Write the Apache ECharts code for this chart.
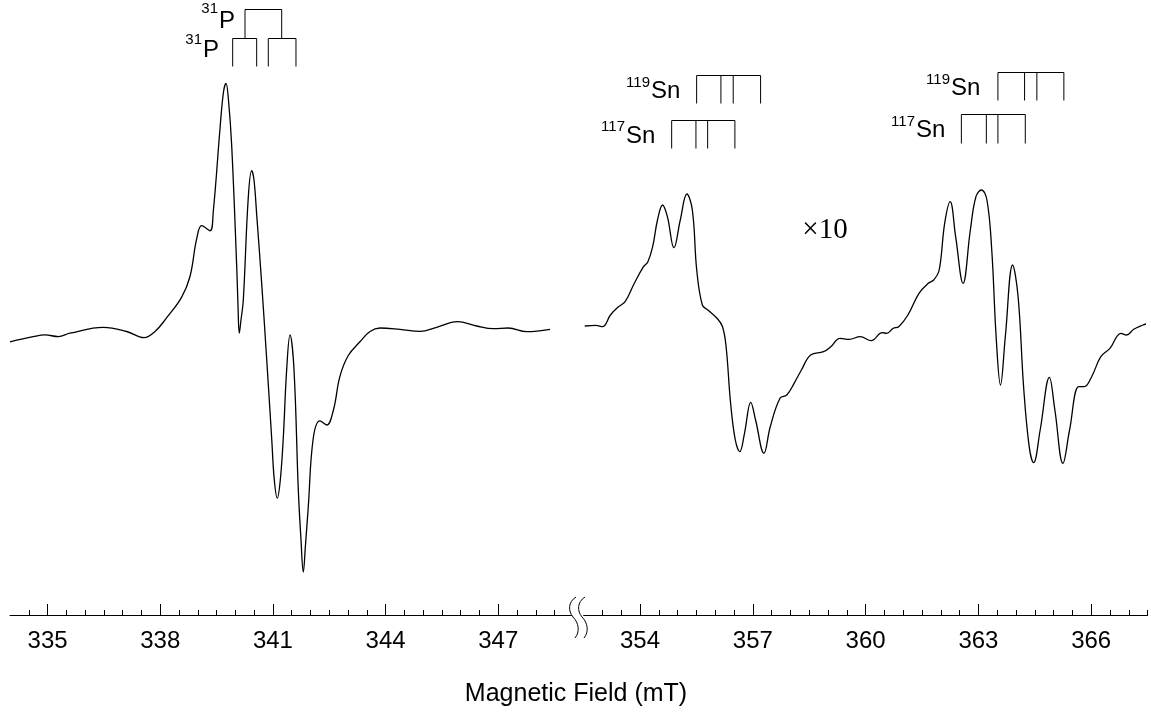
<!DOCTYPE html>
<html><head><meta charset="utf-8">
<script src="https://cdn.jsdelivr.net/npm/echarts@6/dist/echarts.min.js"></script>
<style>html,body{margin:0;padding:0;background:#fff}#c{width:1151px;height:715px}</style>
</head><body><div id="c"></div>
<script>
// ---- data (magnetic field in mT, signal in arbitrary units) ----
const leftField = [334.000, 334.620, 334.932, 335.286, 335.597, 336.484, 337.107, 337.568, 337.861, 338.172, 338.571, 338.792, 338.971, 339.104, 339.325, 339.413, 339.591, 339.684, 339.751, 339.817, 339.903, 340.036, 340.070, 340.105, 340.150, 340.211, 340.344, 340.435, 340.496, 340.568, 340.701, 340.834, 340.967, 341.037, 341.117, 341.197, 341.276, 341.367, 341.455, 341.561, 341.676, 341.748, 341.809, 341.867, 341.942, 342.075, 342.253, 342.432, 342.608, 342.786, 343.007, 343.318, 343.585, 343.851, 344.383, 344.916, 345.360, 345.909, 346.425, 346.867, 347.267, 347.757, 348.377];
const leftSignal = [-11.8, -6.6, -4.9, -6.6, -3.2, 2.6, -1.5, -7.7, -1.5, 12.3, 32.9, 53.5, 91.3, 104.4, 99.2, 118.8, 201.3, 238, 246.6, 230, 184.1, 63.8, 25, -3.2, 10, 29.5, 132.5, 159.3, 150, 115.4, 46.6, -29, -108, -150, -168.1, -150, -108, -39.3, -4.9, -39.3, -159.6, -210, -242, -215, -176.7, -108, -90.8, -95, -80.5, -46.2, -25.5, -11.8, -1.5, 2, 0.7, -1.3, 2.7, 8.3, 4, 1.3, 2, -1.7, 0.7];
const rightField = [352.531, 352.823, 353.001, 353.214, 353.410, 353.604, 353.849, 354.093, 354.210, 354.337, 354.465, 354.600, 354.728, 354.903, 355.071, 355.246, 355.392, 355.509, 355.658, 355.804, 356.048, 356.194, 356.290, 356.410, 356.535, 356.654, 356.779, 356.946, 357.074, 357.297, 357.464, 357.727, 357.903, 358.099, 358.293, 358.538, 358.880, 359.074, 359.319, 359.563, 359.856, 360.150, 360.443, 360.560, 360.735, 360.881, 361.125, 361.420, 361.665, 361.811, 361.957, 362.103, 362.249, 362.395, 362.592, 362.786, 362.935, 363.081, 363.227, 363.355, 363.472, 363.588, 363.716, 363.910, 364.056, 364.202, 364.351, 364.468, 364.643, 364.888, 365.034, 365.249, 365.425, 365.669, 365.815, 366.012, 366.256, 366.498, 366.792, 366.938, 367.132, 367.377, 367.456];
const rightSignal = [4, 4.7, 3.3, 15, 22.7, 28.3, 46.7, 63.3, 68.3, 83.3, 110, 125, 113.3, 82.3, 110, 136, 120, 60, 25, 20, 11.7, 3.3, -16.7, -73.3, -110, -121.7, -103.3, -72.3, -90, -123.3, -96.7, -68, -65, -53.3, -40, -25, -21.7, -16.7, -8.3, -9.3, -6.7, -10.7, -2.7, -3.3, 1.7, 3.3, 15, 36.7, 46.7, 50, 60, 106.7, 128.3, 93.3, 46.7, 100, 133.3, 140, 130, 80, -6.7, -55, -6.7, 65, 33.3, -56.7, -116.7, -132.7, -100, -47.3, -80, -133.3, -100, -56.7, -56.7, -46.7, -26.7, -18.3, -3.3, -5, 0.7, 5, 6];

const leftTickLabels = [335, 338, 341, 344, 347];
const rightTickLabels = [354, 357, 360, 363, 366];
const leftRange = [334, 348.95];
const rightRange = [352.5, 367.5];
const minorStep = 0.5;
const signalRange = [-285, 300];

// annotation stick diagrams (field positions, mT)
const pTop = [340.257, 341.234];
const pLow = [[339.929, 340.568], [340.877, 341.614]];
const sn119a = [355.506, 356.152, 356.479, 357.207];
const sn117a = [354.842, 355.488, 355.799, 356.524];
const sn119b = [363.519, 364.228, 364.555, 365.273];
const sn117b = [362.547, 363.211, 363.519, 364.247];

function minorTicks(a, b) {
  const out = [];
  for (let v = a; v <= b + 1e-9; v += minorStep) out.push(+v.toFixed(2));
  return out;
}
const leftMinor = minorTicks(334.5, 348.5);
const rightMinor = minorTicks(353, 367.5);

const FONT = 'Liberation Sans, Arial, sans-serif';
const chart = echarts.init(document.getElementById('c'), null, {renderer: 'canvas'});

function minorAxis(grid, range, ticks) {
  return {
    gridIndex: grid, type: 'value', min: range[0], max: range[1], position: 'bottom',
    axisLine: {show: true, onZero: false, lineStyle: {color: '#000', width: 1}},
    axisTick: {show: true, inside: true, length: 5, customValues: ticks, lineStyle: {color: '#000', width: 1}},
    axisLabel: {show: false}, splitLine: {show: false}
  };
}
function majorAxis(grid, range, labels) {
  return {
    gridIndex: grid, type: 'value', min: range[0], max: range[1], position: 'bottom',
    axisLine: {show: false, onZero: false},
    axisTick: {show: true, inside: true, length: 11, customValues: labels, lineStyle: {color: '#000', width: 1}},
    axisLabel: {show: true, customValues: labels, fontSize: 24, fontFamily: FONT, color: '#000', margin: 14},
    splitLine: {show: false}
  };
}
function yAx(grid) {
  return {gridIndex: grid, type: 'value', min: signalRange[0], max: signalRange[1], show: false, splitLine: {show: false}};
}
function zip(a, b) { return a.map((v, i) => [v, b[i]]); }

chart.setOption({
  backgroundColor: '#fff',
  animation: false,
  grid: [
    {left: 10, right: 579.5, top: 30, bottom: 100},
    {left: 583.6, right: 3.4, top: 30, bottom: 100}
  ],
  xAxis: [minorAxis(0, leftRange, leftMinor), majorAxis(0, leftRange, leftTickLabels),
          minorAxis(1, rightRange, rightMinor), majorAxis(1, rightRange, rightTickLabels)],
  yAxis: [yAx(0), yAx(1)],
  series: [
    {type: 'line', xAxisIndex: 0, yAxisIndex: 0, data: zip(leftField, leftSignal), showSymbol: false,
     smooth: 0.4, lineStyle: {color: '#000', width: 1.3}},
    {type: 'line', xAxisIndex: 2, yAxisIndex: 1, data: zip(rightField, rightSignal), showSymbol: false,
     smooth: 0.4, lineStyle: {color: '#000', width: 1.3}}
  ]
});

const px = (axis, v) => chart.convertToPixel({xAxisIndex: axis}, v);
const stroke = {stroke: '#000', lineWidth: 1, fill: null};
const g = [];
function poly(points) { g.push({type: 'polyline', shape: {points: points}, style: stroke, silent: true}); }
function bracket(axis, a, b, yTop, yBot) {
  const xa = px(axis, a), xb = px(axis, b);
  poly([[xa, yBot], [xa, yTop], [xb, yTop], [xb, yBot]]);
}
function sticks(axis, vals, yTop, yBot) {
  bracket(axis, vals[0], vals[3], yTop, yBot);
  [vals[1], vals[2]].forEach(v => { const x = px(axis, v); poly([[x, yTop], [x, yBot]]); });
}
function label(sup, main, xMain, ySup, yMain, mainSize) {
  g.push({type: 'text', x: xMain - 1, y: ySup, style: {text: sup, fontSize: 15, fontFamily: FONT, fill: '#000', align: 'right', verticalAlign: 'middle'}, silent: true});
  g.push({type: 'text', x: xMain, y: yMain, style: {text: main, fontSize: mainSize, fontFamily: FONT, fill: '#000', align: 'left', verticalAlign: 'middle'}, silent: true});
}
bracket(0, pTop[0], pTop[1], 9.5, 38.5);
pLow.forEach(p => bracket(0, p[0], p[1], 38.5, 66.5));
label('31', 'P', 219, 9, 21.5, 24);
label('31', 'P', 203, 39.5, 50, 24);

sticks(2, sn119a, 75.5, 103.5);
sticks(2, sn117a, 120.5, 148.5);
sticks(2, sn119b, 72.5, 100.5);
sticks(2, sn117b, 114.5, 143.5);
label('119', 'Sn', 651, 82.5, 91.5, 24);
label('117', 'Sn', 626, 127, 136, 24);
label('119', 'Sn', 951, 80, 88.5, 24);
label('117', 'Sn', 916, 121.5, 130.5, 24);

g.push({type: 'text', x: 825, y: 230, style: {text: '×10', fontSize: 29, fontFamily: 'Liberation Serif, Times New Roman, serif', fill: '#000', align: 'center', verticalAlign: 'middle'}, silent: true});
g.push({type: 'text', x: 576, y: 694, style: {text: 'Magnetic Field (mT)', fontSize: 25, fontFamily: FONT, fill: '#000', align: 'center', verticalAlign: 'middle'}, silent: true});

// axis break marks
[0, 9].forEach(d => {
  g.push({type: 'bezierCurve', shape: {x1: 576 + d, y1: 597, cpx1: 568 + d, cpy1: 602, cpx2: 568 + d, cpy2: 611, x2: 573 + d, y2: 617}, style: stroke, silent: true});
  g.push({type: 'bezierCurve', shape: {x1: 573 + d, y1: 617, cpx1: 579 + d, cpy1: 623, cpx2: 580 + d, cpy2: 632, x2: 575 + d, y2: 638}, style: stroke, silent: true});
});

chart.setOption({graphic: g});
</script>
</body></html>
